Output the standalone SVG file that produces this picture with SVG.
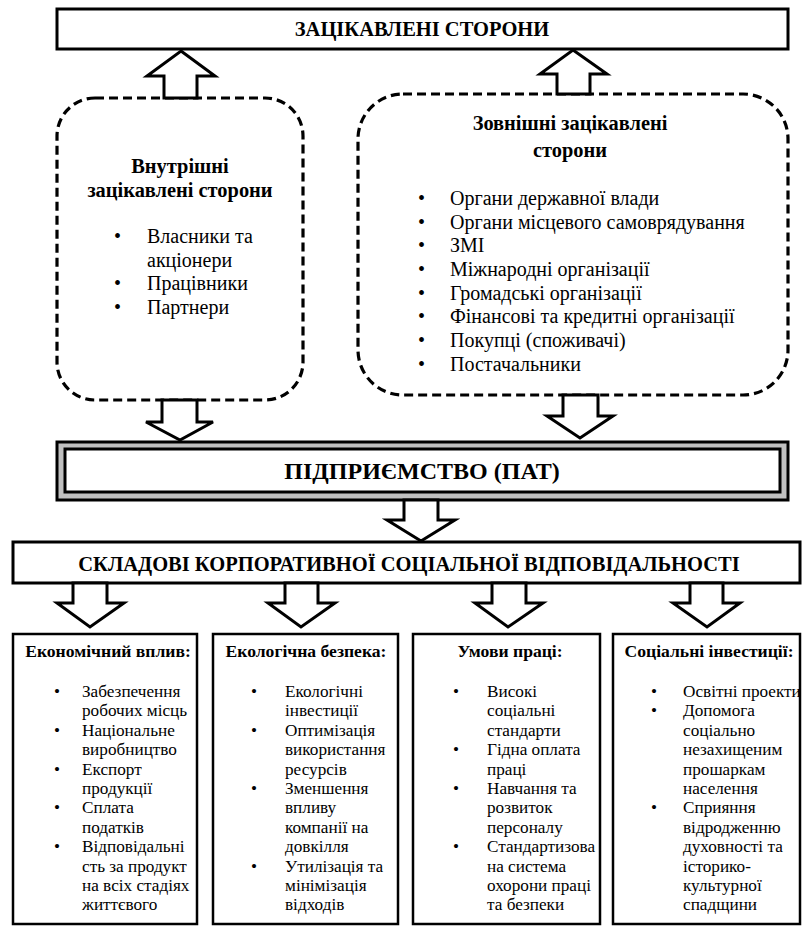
<svg xmlns="http://www.w3.org/2000/svg" width="809" height="927" viewBox="0 0 809 927">
<style>
text{font-family:"Liberation Serif","Times New Roman",serif;fill:#000}
.box{fill:#fff;stroke:#000;stroke-width:3}
.sbox{fill:#fff;stroke:#000;stroke-width:2.5}
.dash{fill:none;stroke:#000;stroke-width:3.2;stroke-dasharray:9 5}
.arrow{fill:#fff;stroke:#000;stroke-width:3;stroke-linejoin:miter}
.hd{font-weight:bold;text-anchor:middle;font-size:20.5px}
.sub{font-weight:bold;text-anchor:middle;font-size:20.4px}
.it{font-size:20px}
.bt{font-weight:bold;text-anchor:middle;font-size:17.6px}
.bi{font-size:17.2px}
</style>
<rect width="809" height="927" fill="#fff"/>

<g id="stakeholders">
<rect class="box" x="57" y="9" width="731" height="40"/>
<text class="hd" x="422" y="36">ЗАЦІКАВЛЕНІ СТОРОНИ</text>
</g>

<g id="internal">
<rect class="dash" x="57" y="98" width="246" height="302" rx="38" ry="38"/>
<text class="sub" x="180" y="173">Внутрішні</text>
<text class="sub" x="180" y="197">зацікавлені сторони</text>
<g class="it">
<text x="114" y="243">•</text><text x="147" y="243">Власники та</text>
<text x="147" y="267">акціонери</text>
<text x="114" y="290">•</text><text x="147" y="290">Працівники</text>
<text x="114" y="314">•</text><text x="147" y="314">Партнери</text>
</g>
</g>

<g id="external">
<rect class="dash" x="358" y="94" width="430" height="301" rx="45" ry="45"/>
<text class="sub" x="570" y="130">Зовнішні зацікавлені</text>
<text class="sub" x="570" y="157">сторони</text>
<g class="it">
<text x="418" y="205">•</text><text x="450" y="205">Органи державної влади</text>
<text x="418" y="229">•</text><text x="450" y="229">Органи місцевого самоврядування</text>
<text x="418" y="252">•</text><text x="450" y="252">ЗМІ</text>
<text x="418" y="276">•</text><text x="450" y="276">Міжнародні організації</text>
<text x="418" y="300">•</text><text x="450" y="300">Громадські організації</text>
<text x="418" y="323">•</text><text x="450" y="323">Фінансові та кредитні організації</text>
<text x="418" y="347">•</text><text x="450" y="347">Покупці (споживачі)</text>
<text x="418" y="371">•</text><text x="450" y="371">Постачальники</text>
</g>
</g>

<g id="enterprise">
<rect x="57" y="442" width="731" height="58" fill="#c0c0c0" stroke="#000" stroke-width="3"/>
<rect class="box" x="65" y="449" width="715" height="43"/>
<text x="422" y="479" font-weight="bold" text-anchor="middle" font-size="24">ПІДПРИЄМСТВО (ПАТ)</text>
</g>

<g id="csr">
<rect class="box" x="13" y="542" width="787" height="41"/>
<text class="hd" x="409" y="571">СКЛАДОВІ КОРПОРАТИВНОЇ СОЦІАЛЬНОЇ ВІДПОВІДАЛЬНОСТІ</text>
</g>

<g id="economic">
<rect class="sbox" x="13" y="634" width="184" height="290"/>
<text class="bt" x="108" y="657">Економічний вплив:</text>
<g class="bi">
<text x="54" y="697">•</text><text x="82" y="697">Забезпечення</text>
<text x="82" y="716">робочих місць</text>
<text x="54" y="736">•</text><text x="82" y="736">Національне</text>
<text x="82" y="755">виробництво</text>
<text x="54" y="775">•</text><text x="82" y="775">Експорт</text>
<text x="82" y="794">продукції</text>
<text x="54" y="813">•</text><text x="82" y="813">Сплата</text>
<text x="82" y="833">податків</text>
<text x="54" y="852">•</text><text x="82" y="852">Відповідальні</text>
<text x="82" y="872">сть за продукт</text>
<text x="82" y="891">на всіх стадіях</text>
<text x="82" y="910">життєвого</text>
</g>
</g>

<g id="ecology">
<rect class="sbox" x="213" y="634" width="185" height="290"/>
<text class="bt" x="306" y="657">Екологічна безпека:</text>
<g class="bi">
<text x="251" y="697">•</text><text x="285" y="697">Екологічні</text>
<text x="285" y="716">інвестиції</text>
<text x="251" y="736">•</text><text x="285" y="736">Оптимізація</text>
<text x="285" y="755">використання</text>
<text x="285" y="775">ресурсів</text>
<text x="251" y="794">•</text><text x="285" y="794">Зменшення</text>
<text x="285" y="813">впливу</text>
<text x="285" y="833">компанії на</text>
<text x="285" y="852">довкілля</text>
<text x="251" y="872">•</text><text x="285" y="872">Утилізація та</text>
<text x="285" y="891">мінімізація</text>
<text x="285" y="910">відходів</text>
</g>
</g>

<g id="labour">
<rect class="sbox" x="413" y="634" width="187" height="290"/>
<text class="bt" x="510" y="657">Умови праці:</text>
<g class="bi">
<text x="453" y="697">•</text><text x="487" y="697">Високі</text>
<text x="487" y="716">соціальні</text>
<text x="487" y="736">стандарти</text>
<text x="453" y="755">•</text><text x="487" y="755">Гідна оплата</text>
<text x="487" y="775">праці</text>
<text x="453" y="794">•</text><text x="487" y="794">Навчання та</text>
<text x="487" y="813">розвиток</text>
<text x="487" y="833">персоналу</text>
<text x="453" y="852">•</text><text x="487" y="852">Стандартизова</text>
<text x="487" y="872">на система</text>
<text x="487" y="891">охорони праці</text>
<text x="487" y="910">та безпеки</text>
</g>
</g>

<g id="social">
<rect class="sbox" x="613" y="634" width="187" height="290"/>
<text class="bt" x="709" y="657">Соціальні інвестиції:</text>
<g class="bi">
<text x="651" y="697">•</text><text x="683" y="697">Освітні проекти</text>
<text x="651" y="716">•</text><text x="683" y="716">Допомога</text>
<text x="683" y="736">соціально</text>
<text x="683" y="755">незахищеним</text>
<text x="683" y="775">прошаркам</text>
<text x="683" y="794">населення</text>
<text x="651" y="813">•</text><text x="683" y="813">Сприяння</text>
<text x="683" y="833">відродженню</text>
<text x="683" y="852">духовності та</text>
<text x="683" y="872">історико-</text>
<text x="683" y="891">культурної</text>
<text x="683" y="910">спадщини</text>
</g>
</g>

<g id="connectors">
<polygon class="arrow" points="181,51 215,76 197,76 197,98 164,98 164,76 147,76"/>
<polygon class="arrow" points="573,50 607,74 590,74 590,94 557,94 557,74 540,74"/>
<polygon class="arrow" points="162,400 197,400 197,422 213,422 180,440 146,422 162,422"/>
<polygon class="arrow" points="563,395 598,395 598,416 613,416 580,438 547,416 563,416"/>
<polygon class="arrow" points="404,500 438,500 438,520 455,520 421,541 387,520 404,520"/>
<polygon class="arrow" points="73,583 107,583 107,603 124,603 90,627 57,603 73,603"/>
<polygon class="arrow" points="285,583 318,583 318,603 335,603 301,627 268,603 285,603"/>
<polygon class="arrow" points="492,583 526,583 526,603 543,603 508,627 475,603 492,603"/>
<polygon class="arrow" points="690,583 723,583 723,603 740,603 707,627 673,603 690,603"/>
</g>
</svg>
